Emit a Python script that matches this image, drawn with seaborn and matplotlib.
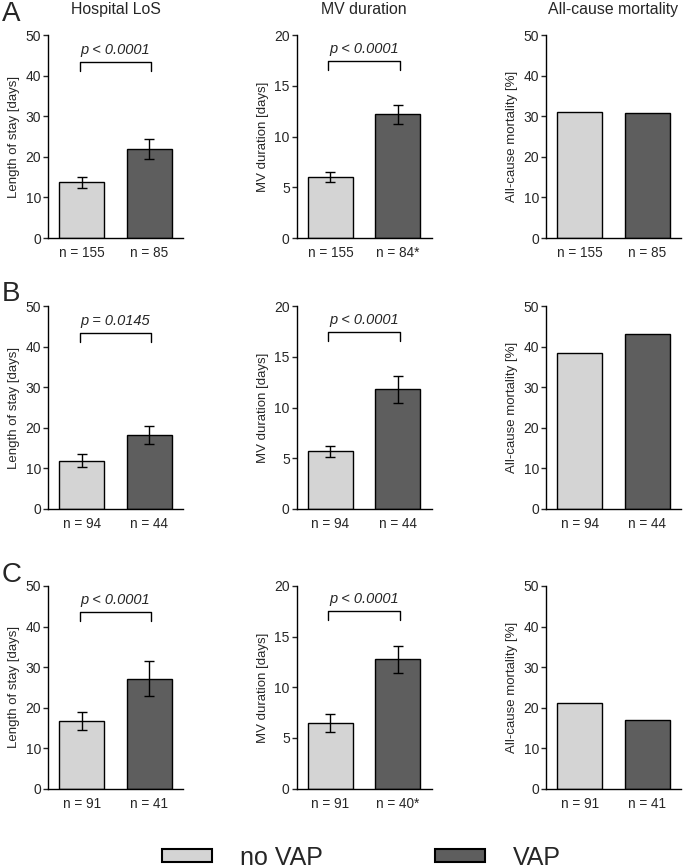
import seaborn as sns
import matplotlib.pyplot as plt
from matplotlib.patches import Patch

# rows A, B, C ; each entry = [no VAP, VAP]
row_names = ['A', 'B', 'C']
groups = ['no VAP', 'VAP']

los_mean = [[13.7, 22.0], [11.9, 18.2], [16.7, 27.1]]
los_err = [[1.4, 2.4], [1.6, 2.2], [2.2, 4.3]]
los_p = ['p < 0.0001', 'p = 0.0145', 'p < 0.0001']

mv_mean = [[6.0, 12.2], [5.7, 11.8], [6.5, 12.75]]
mv_err = [[0.5, 0.95], [0.55, 1.35], [0.9, 1.35]]
mv_p = ['p < 0.0001', 'p < 0.0001', 'p < 0.0001']

mort = [[31.1, 30.8], [38.4, 43.2], [21.2, 17.0]]

los_n = [['n = 155', 'n = 85'], ['n = 94', 'n = 44'], ['n = 91', 'n = 41']]
mv_n = [['n = 155', 'n = 84*'], ['n = 94', 'n = 44'], ['n = 91', 'n = 40*']]
mort_n = [['n = 155', 'n = 85'], ['n = 94', 'n = 44'], ['n = 91', 'n = 41']]

col_titles = ['Hospital LoS', 'MV duration', 'All-cause mortality']
ylabels = ['Length of stay [days]', 'MV duration [days]', 'All-cause mortality [%]']
ymax = [50, 20, 50]
ystep = [10, 5, 10]

light = '#d4d4d4'
dark = '#5e5e5e'

sns.set_style('ticks')
plt.rcParams['font.family'] = ['Liberation Sans', 'DejaVu Sans']

fig = plt.figure(figsize=(6.85, 8.68), dpi=100)

# axes boxes in figure fractions
lefts = [0.0701, 0.4331, 0.797]
width = 0.197
bottoms = [0.7258, 0.4136, 0.0914]
height = 0.2335
letter_tops = [0.999, 0.676, 0.353]


def panel(ax, vals, labels, col, err=None, ptxt=None, bracket=None):
    sns.barplot(x=labels, y=vals, hue=labels, palette=[light, dark], legend=False,
                edgecolor='black', linewidth=1.0, width=0.67, ax=ax)
    if err is not None:
        ax.errorbar([0, 1], vals, yerr=err, fmt='none', ecolor='black',
                    elinewidth=1.0, capsize=3.8, capthick=1.0)
    if ptxt is not None:
        drop = 0.045 * ymax[col]
        ax.plot([-0.03, -0.03, 1.03, 1.03],
                [bracket - drop, bracket, bracket, bracket - drop],
                color='black', lw=1.0)
        ax.annotate(ptxt, (0.5, bracket), xytext=(0, 3.5), textcoords='offset points',
                    ha='center', va='bottom', fontsize=10.5, style='italic')
    ax.set_xlim(-0.5, 1.5)
    ax.set_ylim(0, ymax[col])
    ax.set_yticks(range(0, ymax[col] + 1, ystep[col]))
    ax.set_ylabel(ylabels[col], fontsize=9.5, labelpad=4)
    ax.set_xlabel('')
    ax.tick_params(axis='x', length=0, pad=6, labelsize=9.8)
    ax.tick_params(axis='y', length=3.5, width=1.0, pad=1.5, labelsize=10, direction='out')
    for s in ['left', 'bottom']:
        ax.spines[s].set_linewidth(1.0)
        ax.spines[s].set_color('black')
    sns.despine(ax=ax)


for r in range(3):
    axes = [fig.add_axes([lefts[c], bottoms[r], width, height]) for c in range(3)]
    panel(axes[0], los_mean[r], los_n[r], 0, los_err[r], los_p[r], 43.5)
    panel(axes[1], mv_mean[r], mv_n[r], 1, mv_err[r], mv_p[r], 17.5)
    panel(axes[2], mort[r], mort_n[r], 2)
    if r == 0:
        for c, ax in enumerate(axes):
            ax.set_title(col_titles[c], fontsize=11.4, pad=15)
    fig.text(0.003, letter_tops[r], row_names[r], fontsize=20, va='top', ha='left')

handles = [Patch(facecolor=light, edgecolor='black', linewidth=1.5),
           Patch(facecolor=dark, edgecolor='black', linewidth=1.5)]
fig.legend(handles, groups, loc='center', bbox_to_anchor=(0.528, 0.012), ncol=2,
           frameon=False, fontsize=18, handlelength=2.0, handleheight=0.4,
           handletextpad=1.1, columnspacing=4.5)

fig.savefig('out.png', dpi=100)
